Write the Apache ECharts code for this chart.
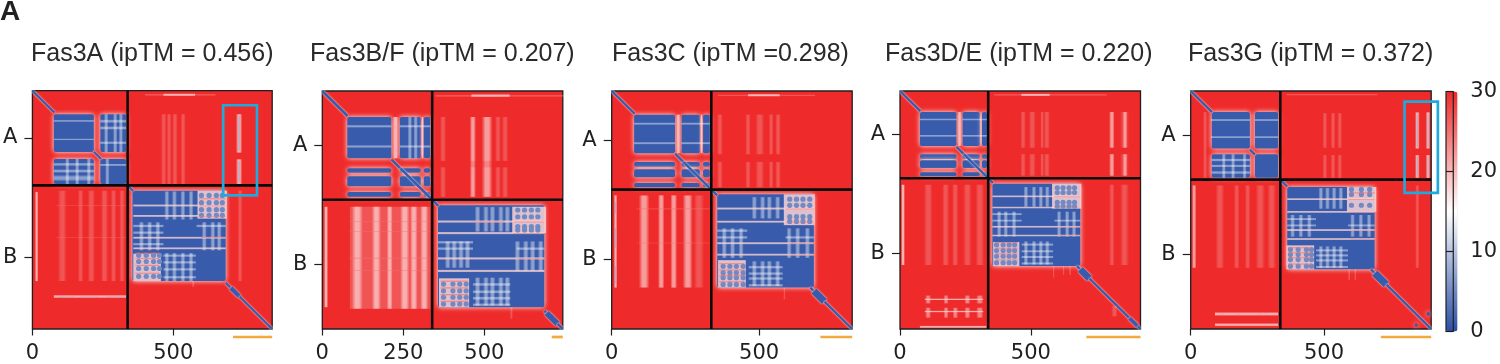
<!DOCTYPE html>
<html><head><meta charset="utf-8">
<style>html,body{margin:0;padding:0;background:#fff}#chart{width:1500px;height:364px;filter:blur(0.5px)}</style>
<script src="https://cdn.jsdelivr.net/npm/echarts@6/dist/echarts.min.js"></script>
</head><body><div id="chart"></div>
<script>
const paeMin=0, paeMax=30;
const paeBlue=1, paeCore=8, paeWhite=15, paePale=18, paeHot=25;

// ---------- Fas3A (residue coordinates)
const fas3aTitle='Fas3A (ipTM = 0.456)';
const fas3aLength=851, fas3aSplit=338;
const fas3aTicksX=[0,500], fas3aTicksY=[169,595];
const fas3aDomainsX=[[76,218],[241,333]], fas3aDomainsY=[[84,219],[244,333]];
const fas3aBlock=[[355,686,357,680]];
const fas3aDiagonal=[[0,78,8],[218,244,8],[338,358,8],[686,704,8],[704,735,16],[735,851,8]];
const fas3aFaint=[[90,122,357,680],[161,181,357,680],[196,222,357,680],[243,269,357,680],[278,298,357,680],[308,328,357,680],[728,746,357,680],[456,476,84,333],[476,494,84,333],[496,516,84,333],[526,544,84,333],[400,650,10,19],[566,576,680,700]];
const fas3aLight=[[254,270,84,219],[286,302,84,219],[306,322,84,219],[241,333,102,116],[241,333,126,140],[241,333,180,192],[76,218,104,112],[76,218,170,178],[76,218,256,270],[76,218,280,294],[76,218,300,324],[116,132,244,333],[151,167,244,333],[192,208,244,333],[241,333,260,270],[258,274,244,333],[468,486,360,460],[495,513,360,460],[525,543,360,460],[554,572,360,460],[468,486,580,680],[495,513,580,680],[525,543,580,680],[554,572,580,680],[378,396,470,570],[407,425,470,570],[436,454,470,570],[601,619,470,570],[631,649,470,570],[654,672,470,570],[358,465,477,489],[358,465,501,513],[358,465,542,554],[583,686,477,489],[465,580,583,595],[465,580,607,619],[465,580,632,644],[465,580,660,672]];
const fas3aPale=[[586,690,357,457],[358,456,582,680],[358,686,405,415],[358,686,442,452],[358,686,520,530],[358,686,558,568],[9,21,362,680],[722,745,84,221],[722,745,245,333],[76,333,728,742],[465,577,9,20]];
const fas3aCores=[[731,736,90,215],[731,736,250,328],[90,150,734,736],[170,230,734,736],[260,330,734,736]];
const fas3aHot=[[590,686,384,388],[590,686,410,413],[590,686,447,450],[600,686,523,526],[365,450,598,601],[365,450,622,626],[365,450,650,654],[365,450,578,582],[85,333,408,410],[85,333,523,525]];
const fas3aDotsX=[[600,627,653,674],[377,404,430,451]], fas3aDotsY=[[374,400,425,445],[588,610,635,663]];
const fas3aOrange=[712,851];
const fas3aBox=[677,797,52,374];

// ---------- Fas3B/F
const fas3bTitle='Fas3B/F (ipTM = 0.207)';
const fas3bLength=742, fas3bSplit=339;
const fas3bTicksX=[0,250,500], fas3bTicksY=[170,540];
const fas3bDomainsX=[[77,213],[239,304],[313,333]], fas3bDomainsY=[[81,210],[241,255],[266,297],[315,330]];
const fas3bBlock=[[357,685,356,674]];
const fas3bDiagonal=[[0,78,8],[213,241,8],[241,339,8],[339,358,8],[685,692,8],[692,726,18],[726,742,8]];
const fas3bFaint=[[85,333,361,679],[91,125,361,679],[153,181,361,679],[199,217,361,679],[240,269,361,679],[271,294,361,679],[302,327,361,679],[363,382,81,218],[455,474,81,218],[492,525,81,218],[533,551,81,218],[554,574,81,218],[363,382,238,330],[455,474,238,330],[492,525,238,330],[533,551,238,330],[554,574,238,330],[350,750,11,19],[579,588,674,710]];
const fas3bLight=[[91,125,361,679],[153,181,361,679],[199,217,361,679],[240,269,361,679],[271,294,361,679],[302,327,361,679],[492,525,81,330],[455,474,81,330],[77,213,105,115],[77,213,168,178],[239,333,105,115],[239,333,168,178],[263,277,81,210],[281,295,81,210],[470,488,362,438],[496,514,362,438],[516,534,362,438],[542,560,362,438],[562,580,362,438],[470,488,582,669],[496,514,582,669],[516,534,582,669],[542,560,582,669],[562,580,582,669],[378,396,469,551],[398,416,469,551],[419,437,469,551],[439,457,469,551],[593,611,469,561],[619,637,469,561],[640,658,469,561],[665,683,469,561],[357,465,466,477],[357,465,486,497],[600,685,486,497],[465,580,597,609],[465,580,620,632],[465,580,640,652],[465,580,661,672]];
const fas3bPale=[[586,690,361,443],[360,453,584,674],[357,685,402,412],[357,685,438,448],[357,685,517,527],[357,685,556,566],[5,18,361,674],[460,578,9,20],[216,236,81,210],[306,312,81,210]];
const fas3bCores=[];
const fas3bHot=[[590,685,407,410],[590,685,443,445],[465,560,407,410],[600,685,522,524],[365,450,591,595],[365,450,612,616],[365,450,633,637],[365,450,654,658],[85,333,405,407],[85,333,437,439],[85,333,520,522],[85,333,558,560]];
const fas3bDotsX=[[603,624,645,665],[374,403,424,444]], fas3bDotsY=[[371,392,423,433],[602,623,643,664]];
const fas3bOrange=[708,742];
const fas3bBox=null;

// ---------- Fas3C
const fas3cTitle='Fas3C (ipTM =0.298)';
const fas3cLength=816, fas3cSplit=338;
const fas3cTicksX=[0,500], fas3cTicksY=[169,577];
const fas3cDomainsX=[[76,215],[237,299],[310,333]], fas3cDomainsY=[[81,213],[243,260],[268,296],[315,330]];
const fas3cBlock=[[358,686,354,674]];
const fas3cDiagonal=[[0,78,8],[215,243,8],[243,338,8],[338,358,8],[674,686,8],[686,722,24],[722,816,8]];
const fas3cFaint=[[92,128,358,674],[157,179,358,674],[199,222,358,674],[241,275,358,674],[278,314,358,674],[357,377,81,217],[453,472,81,217],[487,518,81,217],[533,549,81,217],[555,574,81,217],[357,377,243,330],[453,472,243,330],[487,518,243,330],[533,549,243,330],[555,574,243,330],[360,690,11,19],[582,590,674,714]];
const fas3cLight=[[92,128,358,674],[157,179,358,674],[199,222,358,674],[241,275,358,674],[76,215,107,117],[76,215,174,184],[237,333,107,117],[237,333,174,184],[475,493,364,437],[503,521,364,437],[526,544,364,437],[554,572,364,437],[475,493,584,669],[503,521,584,669],[526,544,584,669],[554,572,584,669],[373,391,471,572],[401,419,471,572],[430,448,471,572],[593,611,471,572],[622,640,471,572],[655,673,471,572],[358,460,473,485],[358,460,496,508],[590,686,496,508],[465,580,598,610],[465,580,620,632],[465,580,637,649],[465,580,660,672]];
const fas3cPale=[[584,689,354,460],[361,455,580,674],[358,686,398,408],[358,686,443,453],[358,686,517,527],[358,686,556,566],[7,19,358,674],[463,570,9,20],[218,234,81,213],[302,308,81,213]];
const fas3cCores=[[11,15,380,420],[11,15,470,540],[11,15,600,660]];
const fas3cHot=[[590,686,403,406],[590,686,448,451],[600,686,522,524],[365,450,590,594],[365,450,612,616],[365,450,631,635],[365,450,652,656],[600,686,561,563],[85,333,403,405],[85,333,520,522]];
const fas3cDotsX=[[604,627,649,672],[378,401,423,446]], fas3cDotsY=[[371,392,431,447],[601,623,640,663]];
const fas3cOrange=[708,816];
const fas3cBox=null;

// ---------- Fas3D/E
const fas3dTitle='Fas3D/E (ipTM = 0.220)';
const fas3dLength=919, fas3dSplit=337;
const fas3dTicksX=[0,500], fas3dTicksY=[168,628];
const fas3dDomainsX=[[76,216],[239,305],[313,333]], fas3dDomainsY=[[81,212],[244,263],[267,297],[314,329]];
const fas3dBlock=[[353,689,358,676]];
const fas3dDiagonal=[[0,78,9],[216,244,9],[244,337,9],[337,355,9],[676,689,9],[689,724,26],[724,877,9],[877,909,14],[909,919,9]];
const fas3dFaint=[[91,125,362,672],[161,188,362,672],[199,223,362,672],[241,274,362,672],[288,322,362,672],[460,481,81,219],[492,519,81,219],[536,550,81,219],[549,573,81,219],[460,481,244,327],[492,519,244,327],[536,550,244,327],[549,573,244,327],[799,820,81,219],[841,875,81,219],[799,820,244,327],[841,875,244,327],[799,820,362,672],[841,875,362,672],[360,790,11,19],[583,591,676,720],[621,629,676,710],[646,654,676,710],[807,832,830,870]];
const fas3dLight=[[799,820,81,219],[851,869,81,219],[799,820,244,327],[851,869,244,327],[76,216,105,115],[76,216,168,178],[239,333,105,115],[239,333,168,178],[472,490,371,447],[503,521,371,447],[529,547,371,447],[554,572,371,447],[472,490,581,670],[503,521,581,670],[529,547,581,670],[554,572,581,670],[370,388,466,562],[395,413,466,562],[427,445,466,562],[599,617,466,562],[630,648,466,562],[656,674,466,562],[353,465,470,481],[353,465,495,506],[590,689,495,506],[465,585,587,599],[465,585,613,625],[465,585,635,647],[465,585,660,672],[96,119,790,820],[166,186,790,820],[246,269,790,820],[291,319,790,820],[96,119,837,875],[166,186,837,875],[201,222,837,875],[246,269,837,875],[291,319,837,875]];
const fas3dPale=[[581,693,358,454],[356,456,583,676],[353,689,402,412],[353,689,445,455],[353,689,519,529],[353,689,553,563],[4,19,362,672],[464,572,9,21],[219,236,81,212],[307,312,81,212],[95,318,800,809],[95,318,847,856],[76,330,905,916]];
const fas3dCores=[];
const fas3dHot=[[590,689,407,410],[590,689,450,452],[600,689,524,526],[365,450,583,587],[365,450,605,609],[365,450,627,631],[365,450,650,654],[600,689,558,560]];
const fas3dDotsX=[[601,623,646,667],[369,394,417,438]], fas3dDotsY=[[374,392,430,445],[594,616,638,663]];
const fas3dOrange=[712,919];
const fas3dBox=null;

// ---------- Fas3G
const fas3gTitle='Fas3G (ipTM = 0.372)';
const fas3gLength=902, fas3gSplit=336;
const fas3gTicksX=[0,500], fas3gTicksY=[168,620];
const fas3gDomainsX=[[79,222],[241,328]], fas3gDomainsY=[[80,218],[240,329]];
const fas3gBlock=[[362,690,364,676],[885,897,838,852],[840,852,880,893]];
const fas3gDiagonal=[[0,80,9],[222,241,9],[336,362,9],[676,690,9],[690,734,28],[734,902,9]];
const fas3gFaint=[[46,62,80,329],[5,21,358,670],[93,126,358,670],[162,183,358,670],[203,224,358,670],[243,279,358,670],[287,320,358,670],[494,512,84,215],[525,543,84,215],[550,568,84,215],[494,512,243,329],[525,543,243,329],[550,568,243,329],[360,700,10,18],[842,858,358,670],[613,622,676,716],[590,599,676,716]];
const fas3gLight=[[5,21,358,670],[76,222,105,115],[76,222,170,180],[241,328,105,115],[241,328,170,180],[79,222,255,268],[79,222,278,290],[79,222,302,316],[116,132,240,329],[151,167,240,329],[194,210,240,329],[479,497,368,446],[504,522,368,446],[529,547,368,446],[554,572,368,446],[479,497,589,670],[504,522,589,670],[529,547,589,670],[554,572,589,670],[373,391,470,552],[404,422,470,552],[436,454,470,552],[598,616,470,552],[629,647,470,552],[660,678,470,552],[362,470,480,491],[362,470,504,515],[590,690,504,515],[470,590,598,610],[470,590,617,629],[470,590,636,648],[470,590,661,673]];
const fas3gPale=[[586,696,364,458],[359,463,585,676],[362,690,405,415],[362,690,453,463],[362,690,522,532],[362,690,556,566],[841,859,81,218],[841,859,243,329],[881,899,81,218],[881,899,243,329],[91,328,837,853],[91,328,879,893]];
const fas3gCores=[[848,852,90,210],[848,852,250,322],[888,892,90,210],[888,892,250,322],[110,125,844,846],[170,185,844,846],[250,265,844,846],[280,290,844,846]];
const fas3gHot=[[590,690,410,413],[590,690,458,460],[600,690,527,529],[365,455,592,596],[365,455,611,615],[365,455,630,634],[365,455,654,658],[600,690,561,563],[600,690,384,388]];
const fas3gDotsX=[[603,640,671],[374,403,434,453]], fas3gDotsY=[[373,392,433],[601,620,639,664]];
const fas3gOrange=[713,902];
const fas3gBox=[802,927,40,386];

// ---------- colour bar ticks
const colorbarTicks=[0,10,20,30];

const panels=[
 {title:fas3aTitle,L:fas3aLength,A:fas3aSplit,tx:fas3aTicksX,ty:fas3aTicksY,dx:fas3aDomainsX,dy:fas3aDomainsY,block:fas3aBlock,diag:fas3aDiagonal,faint:fas3aFaint,light:fas3aLight,pale:fas3aPale,core:fas3aCores,hot:fas3aHot,ox:fas3aDotsX,oy:fas3aDotsY,orange:fas3aOrange,box:fas3aBox,left:31.7,top:90.7,titleLeft:31},
 {title:fas3bTitle,L:fas3bLength,A:fas3bSplit,tx:fas3bTicksX,ty:fas3bTicksY,dx:fas3bDomainsX,dy:fas3bDomainsY,block:fas3bBlock,diag:fas3bDiagonal,faint:fas3bFaint,light:fas3bLight,pale:fas3bPale,core:fas3bCores,hot:fas3bHot,ox:fas3bDotsX,oy:fas3bDotsY,orange:fas3bOrange,box:fas3bBox,left:322.3,top:91,titleLeft:310},
 {title:fas3cTitle,L:fas3cLength,A:fas3cSplit,tx:fas3cTicksX,ty:fas3cTicksY,dx:fas3cDomainsX,dy:fas3cDomainsY,block:fas3cBlock,diag:fas3cDiagonal,faint:fas3cFaint,light:fas3cLight,pale:fas3cPale,core:fas3cCores,hot:fas3cHot,ox:fas3cDotsX,oy:fas3cDotsY,orange:fas3cOrange,box:fas3cBox,left:611.7,top:91,titleLeft:612},
 {title:fas3dTitle,L:fas3dLength,A:fas3dSplit,tx:fas3dTicksX,ty:fas3dTicksY,dx:fas3dDomainsX,dy:fas3dDomainsY,block:fas3dBlock,diag:fas3dDiagonal,faint:fas3dFaint,light:fas3dLight,pale:fas3dPale,core:fas3dCores,hot:fas3dHot,ox:fas3dDotsX,oy:fas3dDotsY,orange:fas3dOrange,box:fas3dBox,left:900,top:91,titleLeft:885},
 {title:fas3gTitle,L:fas3gLength,A:fas3gSplit,tx:fas3gTicksX,ty:fas3gTicksY,dx:fas3gDomainsX,dy:fas3gDomainsY,block:fas3gBlock,diag:fas3gDiagonal,faint:fas3gFaint,light:fas3gLight,pale:fas3gPale,core:fas3gCores,hot:fas3gHot,ox:fas3gDotsX,oy:fas3gDotsY,orange:fas3gOrange,box:fas3gBox,left:1190.7,top:91,titleLeft:1188}
];

const PLOT=240.5, INK='#1f1f1f', RED='#ee2a2a', BLUE_BOX='#1fa9dc', ORANGE='#f4a93d';
const grid=[],xAxis=[],yAxis=[],series=[],title=[],mapped=[];

// narrow bands fade out across their width, as the reference's soft stripes do
function softFill(color,w,h){
  const clear=echarts.color.modifyAlpha(color,0);
  const vertical=h>w;
  return new echarts.graphic.LinearGradient(0,0,vertical?1:0,vertical?0:1,
    [{offset:0,color:clear},{offset:.35,color},{offset:.65,color},{offset:1,color:clear}]);
}
function rectRender(opacity,glow,soft){
  return (params,api)=>{
    const a=api.coord([api.value(0),api.value(2)]),b=api.coord([api.value(1),api.value(3)]);
    const w=b[0]-a[0],h=b[1]-a[1],c=api.visual('color');
    const narrow=soft&&Math.min(w,h)<12;
    return {type:'rect',shape:{x:a[0],y:a[1],width:w,height:h,r:glow>2?2:0},
      style:{fill:narrow?softFill(c,w,h):c,opacity:narrow&&opacity>.8?.78:opacity,shadowBlur:narrow?0:glow,shadowColor:'#fff'}};
  };
}
function lineRender(params,api){
  const a=api.coord([api.value(0),api.value(0)]),b=api.coord([api.value(1),api.value(1)]);
  const w=api.size([api.value(5),api.value(5)])[0];
  return {type:'line',shape:{x1:a[0],y1:a[1],x2:b[0],y2:b[1]},
    style:{stroke:api.visual('color'),lineWidth:w,shadowBlur:2,shadowColor:'#fff',lineCap:'butt'}};
}
function dotRender(params,api){
  const a=api.coord([api.value(0),api.value(2)]);
  return {type:'circle',shape:{cx:a[0],cy:a[1],r:2.6},style:{fill:api.visual('color')}};
}
function layer(gi,name,rows,pae,render){
  mapped.push(series.length);
  series.push({type:'custom',name,xAxisIndex:gi,yAxisIndex:gi,coordinateSystem:'cartesian2d',silent:true,animation:false,
    dimensions:['x0','x1','y0','y1','pae','w'],encode:{x:[0,1],y:[2,3]},
    data:rows.map(r=>r.length===3?[r[0],r[1],r[0],r[1],pae,r[2]]:[r[0],r[1],r[2],r[3],pae,0]),renderItem:render});
}
panels.forEach((p,i)=>{
  grid.push({left:p.left,top:p.top,width:PLOT,height:PLOT,show:true,backgroundColor:RED,borderColor:INK,borderWidth:1.3,containLabel:false});
  xAxis.push({type:'value',gridIndex:i,min:0,max:p.L,position:'bottom',splitLine:{show:false},axisLine:{show:false,onZero:false},
    axisTick:{length:6.5,lineStyle:{color:INK,width:1.2},customValues:p.tx},
    axisLabel:{customValues:p.tx,color:INK,fontFamily:'DejaVu Sans',fontSize:21,margin:14,formatter:v=>String(v)}});
  yAxis.push({type:'value',gridIndex:i,min:0,max:p.L,inverse:true,position:'left',splitLine:{show:false},axisLine:{show:false,onZero:false},
    axisTick:{length:8,lineStyle:{color:INK,width:1.2},customValues:p.ty},
    axisLabel:{customValues:p.ty,color:INK,fontFamily:'DejaVu Sans',fontSize:21,margin:15,formatter:v=>v===p.ty[0]?'A':'B'}});
  title.push({text:p.title,left:p.titleLeft,top:42,padding:0,textStyle:{fontFamily:'Liberation Sans',fontSize:25,fontWeight:'normal',color:'#2a2a2a'}});
  const domains=[];
  p.dy.forEach(y=>p.dx.forEach(x=>domains.push([x[0],x[1],y[0],y[1]])));
  layer(i,'domains',domains,paeBlue,rectRender(1,5,false));
  layer(i,'block',p.block,paeBlue,rectRender(1,5,false));
  layer(i,'diagonal',p.diag,paeBlue,lineRender);
  layer(i,'faint',p.faint,paeWhite,rectRender(.2,0,true));
  layer(i,'light',p.light,paeWhite,rectRender(.42,0,true));
  layer(i,'pale',p.pale,paePale,rectRender(.85,0,true));
  layer(i,'core',p.core,paeCore,rectRender(.8,0,false));
  const dots=[];
  p.ox.forEach((xs,k)=>p.oy[k].forEach(y=>xs.forEach(x=>dots.push([x,x,y,y]))));
  layer(i,'dots',dots,paeCore-3,dotRender);
  layer(i,'hot',p.hot,paeHot,rectRender(.7,0,false));
  series.push({type:'custom',xAxisIndex:i,yAxisIndex:i,silent:true,animation:false,data:[[p.A,p.L]],z:5,
    renderItem:(params,api)=>{
      const a=api.value(0),L=api.value(1),v0=api.coord([a,0]),v1=api.coord([a,L]),h0=api.coord([0,a]),h1=api.coord([L,a]);
      const st={stroke:'#0a0a0a',lineWidth:2.6};
      return {type:'group',children:[
        {type:'line',shape:{x1:v0[0],y1:v0[1],x2:v1[0],y2:v1[1]},style:st},
        {type:'line',shape:{x1:h0[0],y1:h0[1],x2:h1[0],y2:h1[1]},style:st}]};
    }});
  series.push({type:'custom',xAxisIndex:i,yAxisIndex:i,silent:true,animation:false,data:[[p.orange[0],p.orange[1],p.L]],z:5,
    renderItem:(params,api)=>{
      const a=api.coord([api.value(0),api.value(2)]),b=api.coord([api.value(1),api.value(2)]);
      return {type:'line',shape:{x1:a[0],y1:a[1]+8,x2:b[0],y2:b[1]+8},style:{stroke:ORANGE,lineWidth:2.7}};
    }});
  if(p.box) series.push({type:'custom',xAxisIndex:i,yAxisIndex:i,silent:true,animation:false,data:[p.box],z:6,
    renderItem:(params,api)=>{
      const a=api.coord([api.value(0),api.value(2)]),b=api.coord([api.value(1),api.value(3)]);
      return {type:'rect',shape:{x:a[0],y:a[1],width:b[0]-a[0],height:b[1]-a[1]},style:{fill:'none',stroke:BLUE_BOX,lineWidth:2.7}};
    }});
});
grid.push({left:1446,top:91.5,width:11.5,height:240,show:true,z:6,backgroundColor:'transparent',borderColor:INK,borderWidth:1.2});
xAxis.push({type:'value',gridIndex:5,min:0,max:1,show:false});
yAxis.push({type:'value',gridIndex:5,position:'right',min:0,max:30,interval:10,z:6,splitLine:{show:false},axisLine:{show:false},
  axisTick:{length:7,lineStyle:{color:INK,width:1.2},customValues:colorbarTicks},
  axisLabel:{customValues:colorbarTicks,color:INK,fontFamily:'DejaVu Sans',fontSize:21,margin:17}});
title.push({text:'A',left:0,top:-2,padding:0,textStyle:{fontFamily:'Liberation Sans',fontSize:28,fontWeight:'bold',color:'#222'}});

const chart=echarts.init(document.getElementById('chart'),null,{renderer:'canvas'});
chart.setOption({animation:false,backgroundColor:'#fff',title,grid,xAxis,yAxis,series,
  visualMap:{type:'continuous',min:paeMin,max:paeMax,dimension:4,seriesIndex:mapped,calculable:false,showLabel:false,hoverLink:false,
    orient:'vertical',left:1446,top:91.5,itemWidth:11.5,itemHeight:240,padding:0,z:1,text:null,
    inRange:{color:['#2a4fa5','#ffffff','#ee2a2a']}}});
</script></body></html>
